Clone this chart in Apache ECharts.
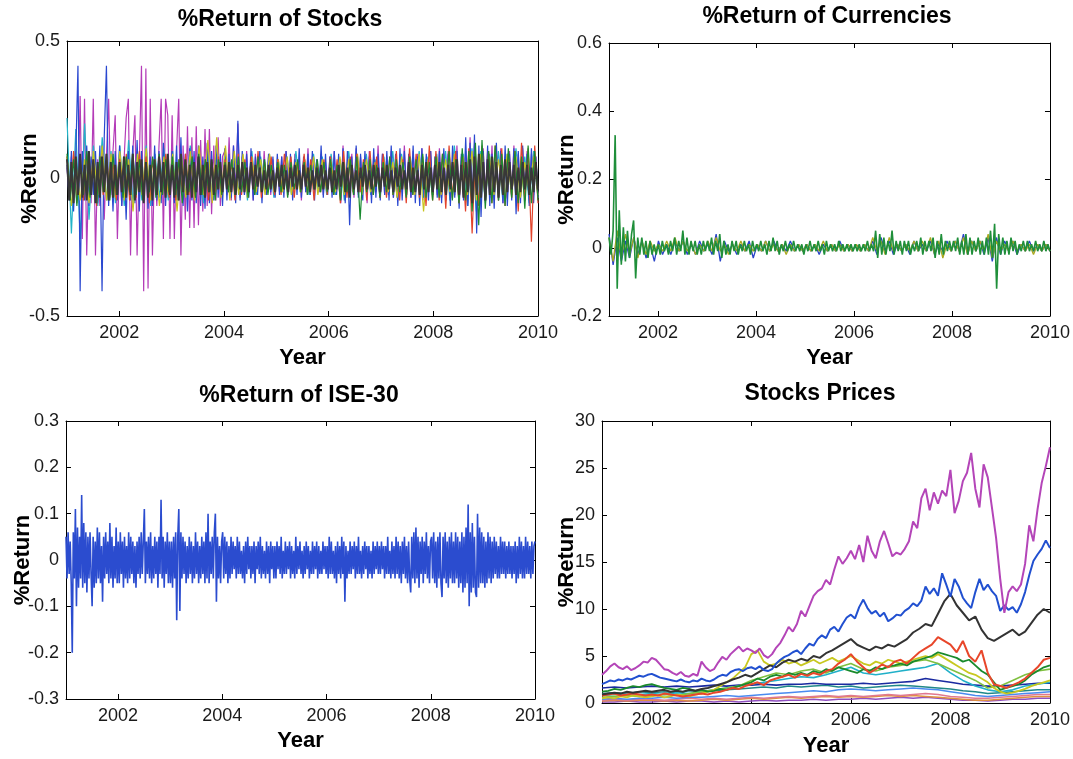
<!DOCTYPE html>
<html><head><meta charset="utf-8">
<script src="https://cdn.jsdelivr.net/npm/echarts@6/dist/echarts.min.js"></script>
<style>html,body{margin:0;padding:0;background:#fff}#c{width:1073px;height:759px}</style>
</head><body><div id="c"></div>
<script>
const yearStart = 2001, yearEnd = 2010;
const yearTicks = [2002, 2004, 2006, 2008, 2010];
const panelTitles = ['%Return of Stocks', '%Return of Currencies', '%Return of ISE-30', 'Stocks Prices'];

// ---- %Return of Stocks (values in hundredths) ----
const stkMagenta = [
4,-6,8,-5,10,-8,30,-22,29,-28,6,-9,29,-28,7,-10,12,-15,8,29,-6,10,23,-22,
8,-10,6,22,29,-28,9,23,-28,6,41,-41,40,-40,29,-28,8,-10,12,29,-22,29,23,-22,
23,-22,10,29,-28,12,-15,19,-18,15,-18,19,-17,14,-12,18,-10,18,-13,12,-8,15,-10,8,
10,-6,15,-8,12,-5,20,-7,8,-6,10,-5,7,-8,9,-4,6,-7,10,-5,8,-6,7,-5,
6,-5,8,-4,10,-6,7,-5,9,-4,6,-8,7,-5,11,-6,8,-4,7,-5,9,-6,6,-4,
8,-5,10,-6,7,-9,12,-8,6,-5,9,-7,11,-6,8,-5,7,-9,10,-6,8,-5,12,-7,
9,-6,8,-5,10,-7,6,-8,9,-5,12,-6,8,-7,10,-5,9,-6,11,-8,7,-5,10,-6,
8,-6,11,-7,9,-5,10,-8,7,-6,12,-9,8,-7,10,-6,15,-10,12,-8,9,-7,11,-6,
10,-7,12,-8,9,-6,11,-9,8,-7,10,-6,12,-8,9,-7,11,-6,10,-8,9,-6,8,-7];
const stkBlue = [
5,-8,10,-12,8,41,-41,10,-8,12,-10,8,-6,10,-9,12,-41,15,41,-10,8,-12,10,-8,
12,-10,8,-15,10,-8,12,-9,14,-12,10,-8,9,-11,8,-10,12,-8,10,-9,13,-10,8,-7,
10,-9,12,-8,15,-10,9,-12,11,-8,10,-9,12,-10,8,-11,13,-9,10,-8,12,-7,9,-10,
11,-8,9,-7,12,-9,21,-8,10,-6,9,-7,11,-8,8,-6,10,-9,7,-6,9,-5,8,-7,
9,-6,8,-7,10,-5,9,-8,7,-6,11,-7,8,-5,9,-6,10,-8,7,-5,12,-7,9,-6,
8,-7,10,-6,9,-8,11,-9,10,-17,8,-6,12,-7,9,-8,10,-6,8,-9,11,-7,9,-8,
9,-6,10,-8,12,-7,9,-10,11,-8,10,-6,9,-7,12,-9,8,-10,11,-7,9,-8,10,-6,
8,-7,10,-9,11,-8,9,-10,12,-7,10,-11,9,-8,15,-10,13,-9,16,-20,12,-14,10,-9,
12,-10,9,-11,13,-8,10,-9,12,-10,9,-8,11,-13,10,-9,12,-8,9,-10,11,-9,8,-7];
const stkCyan = [
22,-20,18,-22,20,-15,12,-10,15,-8,10,-9,
12,-10,14,-9,10,-8,12,-10,9,-7,11,-8,
10,-8,9,-7,12,-6,8,-9,10,-7,9,-6,
8,-6,9,-5,7,-8,10,-6,8,-5,9,-7,
7,-5,8,-6,10,-5,7,-6,9,-4,8,-6,
9,-6,7,-8,10,-5,8,-7,9,-6,7,-5,
8,-6,10,-7,9,-5,8,-6,10,-7,8,-6,
9,-7,10,-8,12,-6,9,-10,11,-12,10,-8,
9,-7,10,-8,9,-6,11,-7,8,-9,10,-7];
const stkRed = [
8,-7,10,-9,6,-8,9,-6,7,-10,8,-6,9,-7,6,-8,
7,-6,9,-8,6,-7,10,-6,8,-9,7,-5,8,-6,9,-7,
6,-8,7,-5,9,-6,8,-7,6,-5,7,-8,6,-5,8,-6,
7,-5,6,-8,9,-6,7,-5,8,-6,10,-7,6,-5,8,-6,
7,-6,9,-5,8,-7,6,-5,9,-6,7,-8,6,-5,7,-6,
8,-6,7,-9,10,-7,8,-6,9,-5,7,-8,10,-6,8,-7,
9,-7,8,-6,10,-8,7,-9,11,-6,9,-7,8,-10,12,-8,
10,-8,9,-11,12,-7,10,-9,8,-12,11,-20,9,-10,12,-8,
10,-9,12,-8,11,-10,9,-7,10,-12,13,-8,11,-23,12,-9];
const stkGreen = [
9,-8,7,-10,8,-6,10,-7,6,-9,8,-5,7,-8,9,-6,
6,-7,8,-5,9,-6,7,-8,6,-5,8,-7,9,-6,7,-5,
8,-6,7,-9,6,-5,8,-7,9,-6,7,-5,6,-8,7,-6,
6,-5,7,-6,8,-5,6,-7,5,-6,8,-5,7,-6,5,-4,
6,-5,5,-7,6,-4,7,-5,6,-6,5,-4,7,-5,6,-5,
7,-6,5,-8,6,-5,7,-6,8,-15,6,-5,7,-6,5,-7,
6,-5,8,-6,7,-5,6,-7,8,-6,7,-5,9,-7,6,-8,
8,-7,9,-6,10,-8,7,-9,11,-8,10,-12,13,-17,14,-11,
10,-9,12,-8,9,-10,11,-7,10,-9,8,-11,12,-9,10,-8];
const stkYellow = [
8,-10,6,-8,7,-9,10,-6,12,-8,9,-7,
10,-8,7,-12,9,-6,11,-8,7,-10,8,-6,
9,-12,8,-7,10,-8,12,-6,14,-9,15,-7,
12,-8,10,-6,9,-7,8,-5,7,-6,9,-5,
7,-5,8,-6,6,-5,7,-4,8,-6,7,-5,
6,-5,8,-6,7,-5,9,-6,7,-5,6,-4,
7,-5,6,-7,8,-5,7,-6,9,-12,7,-5,
8,-6,7,-5,9,-7,8,-6,10,-8,9,-7,
8,-6,7,-5,9,-6,8,-7,6,-5,8,-6];
const stkBlack = [
7,-8,6,-9,8,-6,9,-7,5,-8,10,-6,7,-9,6,-7,8,-5,9,-8,6,-7,5,-6,
6,-5,8,-7,5,-6,9,-8,6,-5,7,-9,6,-7,5,-8,7,-6,8,-5,6,-7,9,-6,
5,-7,6,-8,9,-5,7,-6,5,-7,6,-5,8,-6,5,-7,6,-5,7,-6,5,-4,6,-5,
5,-4,6,-5,4,-6,5,-4,6,-5,4,-5,6,-4,5,-3,4,-5,3,-4,5,-4,3,-5,
4,-3,5,-4,3,-5,4,-3,5,-4,3,-4,5,-3,4,-5,3,-4,4,-3,5,-4,3,-4,
4,-5,3,-4,5,-3,6,-5,4,-7,5,-4,3,-5,4,-3,5,-4,3,-4,5,-3,4,-5,
4,-3,5,-4,3,-5,4,-3,5,-4,3,-4,6,-5,4,-5,3,-6,5,-4,6,-5,4,-5,
5,-4,6,-5,4,-6,5,-4,6,-5,7,-6,5,-7,6,-5,7,-9,8,-6,9,-7,6,-8,
7,-6,8,-5,6,-7,5,-6,7,-5,6,-4,5,-6,4,-5,6,-4,5,-6,4,-5,6,-4];

// ---- %Return of Currencies (values in hundredths) ----
const curBlue = [
4,-5,3,-4,2,-3,3,-2,2,-3,1,-4,
2,-2,1,-2,2,-1,2,-2,1,-2,2,-1,
1,-2,4,-4,2,-1,1,-2,1,-1,2,-3,
1,-1,2,-1,2,-1,1,-1,2,-1,1,-1,
1,-1,1,-2,1,-1,1,-1,2,-1,1,-1,
1,-1,1,-1,2,-2,3,-1,2,-2,1,-1,
1,-2,2,-1,1,-1,2,-2,1,-1,2,-1,
2,-1,4,-2,2,-1,2,-2,3,-4,3,-2,
2,-1,2,-2,1,-1,2,-1,1,-1,1,-1];
const curOlive = [
3,-4,5,-3,4,-2,3,-3,2,-2,2,-1,
1,-1,2,-1,3,-1,2,-1,1,-2,1,-1,
2,-1,3,-1,1,-2,1,-1,2,-1,1,-1,
1,-1,2,-1,1,-1,1,-2,1,-1,1,-1,
1,-1,1,-1,2,-1,1,-1,1,-1,1,-1,
1,-1,1,-1,3,-1,2,-2,3,-1,1,-1,
1,-1,2,-1,2,-1,3,-2,2,-3,1,-1,
2,-1,3,-2,2,-1,2,-1,4,-3,2,-1,
1,-1,2,-1,1,-1,1,-2,1,-1,1,-1];
const curGreen = [
3,-2,5,33,-12,11,-5,6,-4,5,-3,4,8,-9,3,-2,3,-2,2,-3,2,-2,1,-2,
1,-2,2,-1,1,-2,2,-1,3,-2,2,-1,5,-2,3,-2,2,-1,2,-2,1,-2,2,-1,
2,-1,3,-2,2,-1,4,-3,2,-2,1,-2,2,-1,2,-2,1,-1,2,-1,1,-2,2,-1,
1,-1,2,-1,1,-2,2,-1,3,-1,2,-2,1,-1,2,-1,1,-1,2,-1,1,-1,1,-2,
1,-1,2,-1,1,-1,2,-1,1,-2,2,-1,1,-1,1,-1,2,-1,1,-1,1,-1,1,-1,
1,-1,1,-1,1,-1,2,-1,1,-1,5,-3,4,-2,3,-2,2,-1,5,-2,2,-1,2,-2,
2,-1,2,-2,1,-1,2,-1,3,-2,2,-1,2,-1,3,-3,2,-2,4,-2,2,-1,2,-1,
2,-1,3,-2,2,-2,4,-2,3,-2,2,-1,3,-2,2,-2,3,-2,5,-3,7,-12,4,-2,
3,-2,2,-2,3,-1,2,-2,1,-1,2,-1,2,-1,1,-1,2,-1,1,-1,2,-1,1,-1];

// ---- %Return of ISE-30 (values in hundredths) ----
const ise30 = [
5,-4,6,-3,4,-5,-20,6,-4,11,-10,7,-6,5,-4,14,-6,8,-5,6,-7,5,-4,6,-3,-10,5,-6,4,-5,7,-4,6,-5,3,-9,5,-4,6,-3,4,-5,8,-4,5,-6,3,-4,7,-5,
4,-5,6,-3,4,-6,5,-4,3,-5,6,-4,5,-3,4,-5,3,-6,4,-3,5,-4,6,-3,4,11,-5,4,-3,5,-4,6,-5,3,-4,5,-3,4,-6,5,-3,13,-4,5,-6,4,-3,6,-5,4,
-5,4,-6,5,-4,6,-13,5,11,-11,6,-4,5,-3,4,-5,3,-4,5,-3,4,-5,3,-4,6,-3,4,-5,3,-4,5,-3,4,-5,6,-4,10,-5,4,-3,5,-4,6,10,-9,5,-4,3,-5,4,
6,-4,5,-3,4,-5,3,-4,5,-3,4,-2,3,-4,5,-3,4,-3,2,-4,3,-5,4,-3,5,-2,3,-4,3,-3,4,-5,3,-2,4,-3,5,-4,3,-3,2,-4,4,-3,3,-5,4,-2,3,-4,
3,-4,4,-2,3,-3,5,-4,2,-3,4,-3,3,-2,4,-4,3,-3,2,-4,5,-3,3,-2,4,-3,2,-4,3,-3,4,-2,3,-4,2,-3,4,-3,3,-2,4,-4,3,-3,2,-3,4,-2,3,-3,
3,-4,5,-3,4,-3,2,-4,3,-5,4,-3,3,-4,5,-3,4,-9,3,-4,2,-3,4,-3,3,-2,4,-4,3,-3,5,-3,2,-4,3,-3,4,-2,3,-4,3,-3,2,-4,4,-3,3,-2,4,-3,
3,-3,4,-2,3,-4,3,-3,5,-3,2,-4,4,-3,3,-4,5,-3,4,-4,3,-5,4,-3,5,-4,3,-5,4,-4,-7,5,-4,6,-5,7,-4,5,-6,4,-3,5,-5,4,-3,6,-4,3,-5,4,
5,-4,6,-5,4,-6,5,-4,6,-5,-8,5,-4,6,-5,4,-6,5,-4,6,-5,4,-5,6,-4,5,-6,4,-5,6,-7,5,-6,7,-5,12,-10,6,-7,8,-6,5,-7,-8,10,-6,7,-5,6,-5,
5,-6,4,-5,6,-4,5,-5,4,-4,5,-3,4,-4,3,-4,5,-3,4,-3,4,-4,3,-3,4,-3,3,-4,3,-3,4,-5,3,-4,5,-3,4,-4,3,-4,5,-3,4,-3,3,-4,4,-3,3,4];

// ---- Stocks Prices ----
const prMagenta = [
3.0,3.4,3.9,4.2,3.8,3.6,3.9,3.5,3.7,4.0,4.4,4.3,
4.8,4.6,4.1,3.6,3.5,3.2,3.0,3.3,2.9,2.8,3.1,2.9,
4.4,3.8,3.4,3.6,4.3,4.9,4.6,5.2,5.6,6.0,5.5,5.8,
5.6,5.3,5.8,5.1,4.8,5.2,5.9,6.4,7.2,8.1,7.6,8.4,
9.8,9.2,10.3,11.4,11.9,12.2,13.1,12.6,14.2,15.6,14.8,15.4,
16.2,15.3,16.8,15.0,17.8,16.2,15.4,17.2,18.3,17.0,15.6,16.0,
15.8,16.4,17.2,19.3,18.6,21.8,22.8,20.5,22.4,21.2,22.6,22.0,
24.8,20.2,21.5,23.6,24.5,26.6,22.8,20.8,25.4,24.0,20.8,17.6,
13.2,9.6,11.8,12.4,11.9,12.6,14.8,18.9,17.2,20.6,23.4,25.2,
27.2];
const prBlue = [
2.0,2.2,2.4,2.3,2.5,2.4,2.6,2.5,2.7,2.9,2.8,3.0,
3.1,2.9,2.7,2.6,2.5,2.4,2.3,2.5,2.3,2.2,2.4,2.3,
2.6,2.4,2.3,2.5,2.8,3.0,2.9,3.3,3.5,3.6,3.4,3.7,
3.8,3.6,3.9,3.5,3.4,3.6,4.2,4.6,4.9,5.1,5.4,5.6,
5.2,5.8,6.3,6.1,6.8,7.2,6.9,7.8,8.1,7.6,8.4,9.1,
9.4,9.0,10.2,11.0,10.1,9.5,9.8,9.2,9.6,8.7,9.0,9.4,
9.3,9.8,10.1,10.6,10.3,10.9,12.4,11.6,12.2,11.4,13.8,12.6,
11.3,13.2,12.4,11.2,10.6,10.1,11.8,13.2,12.0,12.6,11.9,11.4,
9.8,10.4,9.9,10.2,9.6,10.5,11.8,13.6,15.1,15.8,16.4,17.3,
16.5];
const prBlack = [
0.9,1.0,1.1,1.0,1.2,1.1,1.2,1.3, 1.2,1.3,1.4,1.2,1.3,1.2,1.4,1.3,
1.5,1.6,1.8,2.0,2.2,2.5,2.7,3.0, 2.8,3.2,3.6,4.0,3.8,4.3,4.6,4.4,
4.7,4.5,5.0,4.8,5.3,5.6,6.0,6.4, 6.8,6.2,5.9,5.6,6.0,5.8,6.2,6.0,
6.4,6.8,7.5,7.9,8.4,8.2,9.5,10.8, 11.6,10.4,9.6,8.8,9.2,7.8,6.9,6.6,
7.0,7.4,7.8,7.2,7.6,8.5,9.4,10.0, 9.6];
const prRed = [
0.8,0.9,1.0,0.8,0.9,1.0,0.9,0.8, 0.9,0.8,1.0,0.9,0.8,0.7,0.8,0.9,
1.0,0.9,1.1,1.2,1.4,1.6,1.5,1.8, 2.0,2.2,1.9,2.4,2.6,2.8,3.0,2.7,
3.1,2.9,3.2,3.0,3.4,3.6,4.2,4.6, 5.2,4.4,3.8,3.2,3.6,4.1,3.8,4.4,
4.6,4.2,4.8,5.4,5.8,6.2,7.0,6.6, 6.2,5.4,6.6,5.0,4.4,5.6,3.2,2.0,
1.8,1.6,1.9,2.2,2.6,3.2,3.8,4.6, 4.8];
const prGreen = [
1.2,1.3,1.5,1.4,1.6,1.8,1.7,1.9, 2.0,1.8,1.6,1.5,1.4,1.6,1.5,1.3,
1.4,1.2,1.3,1.5,1.4,1.6,1.8,2.0, 2.2,2.6,2.4,2.8,3.0,2.8,3.2,3.0,
3.2,3.0,3.4,3.2,3.6,3.4,3.8,3.6, 3.4,3.2,3.6,3.4,3.8,3.6,3.9,4.0,
4.2,4.0,4.4,4.6,4.8,5.0,5.4,5.2, 5.0,4.8,4.4,4.6,4.0,3.4,3.0,2.2,
1.4,1.6,1.8,2.0,2.4,3.0,3.4,3.8, 4.0];
const prYellow = [
0.5,0.6,0.5,0.7,0.6,0.8,0.7,0.6, 0.7,0.8,0.6,0.7,0.9,0.8,0.7,0.9,
1.0,1.2,1.4,1.8,2.2,2.6,3.2,3.8, 5.2,5.6,4.4,4.0,4.2,4.6,4.2,4.4,
4.0,4.3,4.6,4.2,4.5,4.8,4.4,4.7, 5.0,4.6,4.2,4.0,4.4,4.2,4.6,4.4,
4.2,4.4,4.6,4.8,5.0,4.8,5.2,4.8, 4.4,4.0,3.6,3.2,3.0,2.6,2.2,1.6,
1.2,1.0,1.1,1.3,1.5,1.8,2.0,2.2, 2.4];
const prCyan = [0.8,0.9,1.0,0.9, 1.0,0.9,1.1,1.0, 1.2,1.4,1.6,1.8, 2.0,2.2,2.4,2.6, 2.8,2.7,3.0,3.4, 3.8,3.2,3.0,3.2, 3.4,3.6,3.8,4.2, 3.2,2.4,1.8,1.4, 1.2,1.4,1.8,2.0, 2.2];
const prNavy = [1.6,1.7,1.6,1.7, 1.8,1.7,1.8,1.7, 1.8,1.9,1.8,1.9, 1.9,2.0,1.9,2.0, 2.0,2.1,2.0,2.0, 2.0,2.1,2.0,2.1, 2.2,2.3,2.6,2.4, 2.2,2.0,1.9,1.8, 1.8,1.9,2.0,2.1, 2.1];
const prLime = [0.6,0.7,0.8,0.7, 0.8,0.9,0.8,1.0, 1.2,1.4,1.6,1.8, 2.4,2.8,3.2,3.0, 3.4,3.6,3.2,3.8, 4.2,3.6,3.4,3.8, 4.0,4.4,4.6,4.2, 3.6,3.0,2.4,1.6, 1.8,2.4,3.0,3.4, 3.6];
const prTeal = [1.0,1.1,1.0,1.2, 1.1,1.2,1.1,1.3, 1.2,1.3,1.4,1.5, 1.6,1.7,1.6,1.8, 1.7,1.8,1.9,1.7, 1.8,1.6,1.7,1.8, 1.9,1.8,1.7,1.6, 1.5,1.3,1.2,1.0, 1.1,1.2,1.3,1.4, 1.4];
const prLightBlue = [0.4,0.5,0.4,0.5, 0.5,0.6,0.5,0.6, 0.6,0.7,0.8,0.7, 0.8,0.9,1.0,1.1, 1.2,1.3,1.2,1.4, 1.5,1.4,1.3,1.4, 1.5,1.6,1.5,1.4, 1.2,1.0,0.8,0.7, 0.8,0.9,1.0,1.1, 1.2];
const prPink = [0.3,0.4,0.3,0.4, 0.4,0.3,0.4,0.5, 0.4,0.5,0.4,0.5, 0.6,0.5,0.6,0.7, 0.6,0.7,0.8,0.7, 0.8,0.7,0.8,0.9, 0.8,0.9,1.0,0.9, 0.7,0.6,0.5,0.5, 0.6,0.7,0.8,0.9, 0.9];
const prOrange = [0.2,0.3,0.2,0.3, 0.3,0.2,0.3,0.2, 0.3,0.4,0.3,0.4, 0.5,0.4,0.5,0.6, 0.5,0.6,0.7,0.6, 0.7,0.6,0.7,0.8, 0.7,0.8,0.7,0.6, 0.5,0.4,0.3,0.3, 0.4,0.5,0.6,0.7, 0.7];
const prPurple = [0.1,0.1,0.2,0.1, 0.1,0.2,0.1,0.2, 0.2,0.1,0.2,0.1, 0.2,0.3,0.2,0.3, 0.3,0.4,0.3,0.4, 0.4,0.5,0.4,0.5, 0.6,0.5,0.6,0.5, 0.4,0.3,0.3,0.2, 0.3,0.4,0.4,0.5, 0.5];

// ---------- build ----------
const FONT = '"Liberation Sans", Arial, sans-serif';
const PCT = 0.01;
function toXY(vals, k) {
  const n = vals.length;
  return vals.map((v, i) => [yearStart + (yearEnd - yearStart) * i / (n - 1), +(v * k).toFixed(4)]);
}
const grids = [
  {left: 67, top: 41, width: 471, height: 275},
  {left: 609, top: 43, width: 441, height: 273},
  {left: 66, top: 421, width: 469, height: 278},
  {left: 602, top: 421, width: 448, height: 282}
];
const yCfg = [
  {min: -0.5, max: 0.5, interval: 0.5},
  {min: -0.2, max: 0.6, interval: 0.2},
  {min: -0.3, max: 0.3, interval: 0.1},
  {min: 0, max: 30, interval: 5}
];
const yNameGap = [26, 31, 32, 24];
const xNameGap = [31, 31, 31, 32];
const titlePos = [[280, 8], [827, 5], [299, 384], [820, 382]];

const lineStyleAxis = {color: '#000', width: 1};
const xAxes = [], yAxes = [];
grids.forEach((g, i) => {
  xAxes.push({
    type: 'value', gridIndex: i, min: yearStart, max: yearEnd, position: 'bottom',
    axisLine: {show: true, onZero: false, lineStyle: lineStyleAxis},
    axisTick: {show: true, inside: true, length: 5, customValues: yearTicks, lineStyle: lineStyleAxis},
    axisLabel: {show: true, customValues: yearTicks, fontSize: 18, color: '#1a1a1a', margin: 8, fontFamily: FONT,
      formatter: v => String(Math.round(v))},
    splitLine: {show: false},
    name: 'Year', nameLocation: 'middle', nameGap: xNameGap[i], nameMoveOverlap: false,
    nameTextStyle: {fontSize: 22, fontWeight: 'bold', color: '#000', fontFamily: FONT}
  });
  xAxes.push({
    type: 'value', gridIndex: i, min: yearStart, max: yearEnd, position: 'top',
    axisLine: {show: true, onZero: false, lineStyle: lineStyleAxis},
    axisTick: {show: true, inside: true, length: 5, customValues: yearTicks, lineStyle: lineStyleAxis},
    axisLabel: {show: false}, splitLine: {show: false}
  });
  const c = yCfg[i];
  yAxes.push({
    type: 'value', gridIndex: i, min: c.min, max: c.max, interval: c.interval, position: 'left',
    axisLine: {show: true, onZero: false, lineStyle: lineStyleAxis},
    axisTick: {show: true, inside: true, length: 5, lineStyle: lineStyleAxis},
    axisLabel: {fontSize: 18, color: '#1a1a1a', margin: 7, fontFamily: FONT,
      formatter: v => String(+(+v).toFixed(2))},
    splitLine: {show: false},
    name: '%Return', nameLocation: 'middle', nameGap: yNameGap[i], nameMoveOverlap: false,
    nameTextStyle: {fontSize: 22, fontWeight: 'bold', color: '#000', fontFamily: FONT}
  });
  yAxes.push({
    type: 'value', gridIndex: i, min: c.min, max: c.max, interval: c.interval, position: 'right',
    axisLine: {show: true, onZero: false, lineStyle: lineStyleAxis},
    axisTick: {show: true, inside: true, length: 5, lineStyle: lineStyleAxis},
    axisLabel: {show: false}, splitLine: {show: false}
  });
});

function line(panel, vals, k, color, width, name) {
  return {
    type: 'line', name: name, xAxisIndex: panel * 2, yAxisIndex: panel * 2,
    data: toXY(vals, k), showSymbol: false, symbol: 'none', sampling: null,
    lineStyle: {color: color, width: width}, itemStyle: {color: color},
    animation: false, silent: true, z: 2
  };
}

const series = [
  line(0, stkMagenta, PCT, '#b43cb8', 1.2, 'm'),
  line(0, stkCyan, PCT, '#22b4c8', 1.2, 'c'),
  line(0, stkBlue, PCT, '#2a48d0', 1.2, 'b'),
  line(0, stkYellow, PCT, '#c8c41e', 1.2, 'y'),
  line(0, stkRed, PCT, '#e2432c', 1.2, 'r'),
  line(0, stkGreen, PCT, '#1a8a30', 1.2, 'g'),
  line(0, stkBlack, PCT, '#383838', 2, 'k'),

  line(1, curBlue, PCT, '#2a44c8', 1.3, 'cb'),
  line(1, curOlive, PCT, '#aaa820', 1.3, 'co'),
  line(1, curGreen, PCT, '#1f8f3a', 1.6, 'cg'),

  line(2, ise30, PCT, '#2b4ccf', 1.6, 'ise'),

  line(3, prPurple, 1, '#9050c0', 1.5, 'p1'),
  line(3, prOrange, 1, '#e09040', 1.5, 'p2'),
  line(3, prPink, 1, '#e07890', 1.5, 'p3'),
  line(3, prLightBlue, 1, '#4a8af0', 1.5, 'p4'),
  line(3, prTeal, 1, '#208888', 1.5, 'p5'),
  line(3, prNavy, 1, '#1a2aa0', 1.6, 'p6'),
  line(3, prCyan, 1, '#20b0c8', 1.6, 'p7'),
  line(3, prLime, 1, '#80c040', 1.6, 'p8'),
  line(3, prYellow, 1, '#c8c820', 1.8, 'p9'),
  line(3, prGreen, 1, '#1a8a2c', 1.8, 'p10'),
  line(3, prRed, 1, '#e8462a', 2, 'p11'),
  line(3, prBlack, 1, '#333333', 2, 'p12'),
  line(3, prBlue, 1, '#2150d0', 2, 'p13'),
  line(3, prMagenta, 1, '#b445b8', 2, 'p14')
];

const chart = echarts.init(document.getElementById('c'), null, {renderer: 'canvas'});
chart.setOption({
  animation: false,
  backgroundColor: '#fff',
  title: panelTitles.map((t, i) => ({
    text: t, left: titlePos[i][0], top: titlePos[i][1], textAlign: 'center', padding: 0,
    textStyle: {fontSize: 23, fontWeight: 'bold', color: '#000', fontFamily: FONT}
  })),
  grid: grids.map(g => Object.assign({containLabel: false}, g)),
  xAxis: xAxes,
  yAxis: yAxes,
  series: series
});
</script>
</body></html>
